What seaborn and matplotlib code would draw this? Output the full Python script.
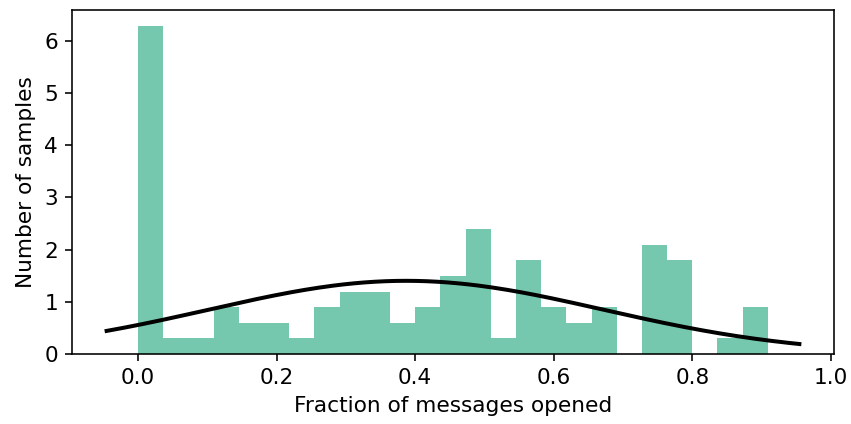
import numpy as np
import pandas as pd
import seaborn as sns
import matplotlib
matplotlib.use("Agg")
import matplotlib.pyplot as plt

# Per-sample open fractions, grouped into 25 equal bins spanning [0, 10/11]
bin_count = 25
max_fraction = 10 / 11
bin_counts = [21, 1, 1, 3, 2, 2, 1, 3, 4, 4, 2, 3, 5, 8, 1, 6, 3, 2, 3, 0, 7, 6, 0, 1, 3]

width = max_fraction / bin_count
bin_centers = [(i + 0.5) * width for i in range(bin_count)]
fractions = np.repeat(bin_centers, bin_counts)
fractions[:bin_counts[0]] = 0.0  # samples that opened nothing
df = pd.DataFrame({"fraction": fractions})

plt.rcParams["font.family"] = ["DejaVu Sans"]
plt.rcParams["font.size"] = 10.8

DPI = 144
fig, ax = plt.subplots(figsize=(851 / DPI, 424 / DPI), dpi=DPI)
fig.subplots_adjust(left=72 / 851, right=834 / 851, top=1 - 10 / 424, bottom=70 / 424)

sns.histplot(data=df, x="fraction", bins=bin_count, binrange=(0, max_fraction),
             stat="density", color="#66c2a5", alpha=0.9, edgecolor="none",
             linewidth=0, ax=ax)

# Normal fit over the current x extent
mu = df["fraction"].mean()
sigma = df["fraction"].std(ddof=0)
xmin, xmax = ax.get_xlim()
xs = np.linspace(xmin, xmax, 200)
pdf = np.exp(-0.5 * ((xs - mu) / sigma) ** 2) / (sigma * np.sqrt(2 * np.pi))
sns.lineplot(x=xs, y=pdf, color="black", linewidth=2, ax=ax)

ax.set_xlabel("Fraction of messages opened")
ax.set_ylabel("Number of samples")
ax.set_xticks([0.0, 0.2, 0.4, 0.6, 0.8, 1.0])
ax.set_yticks([0, 1, 2, 3, 4, 5, 6])

fig.savefig("out.png", dpi=DPI)
